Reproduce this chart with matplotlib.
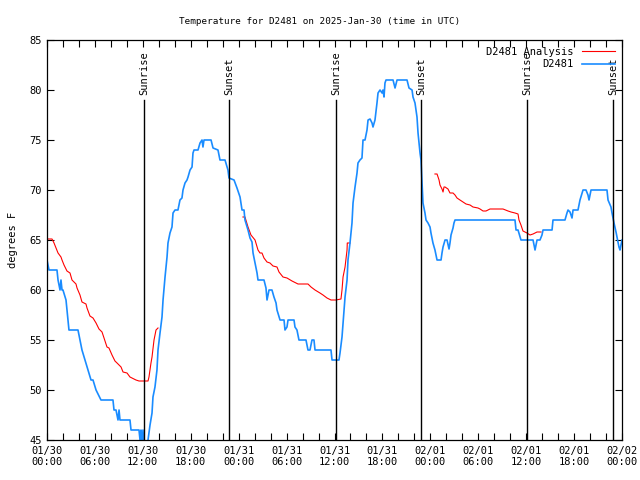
"""Temperature for station D2481, observed vs analysis, gnuplot-like look."""
import matplotlib
matplotlib.use("Agg")
import matplotlib.pyplot as plt
import matplotlib.dates as mdates
import numpy as np
import pandas as pd

START = pd.Timestamp("2025-01-30 00:00")
END = pd.Timestamp("2025-02-02 00:00")

# observed temperature: hours since START, degrees F
obs_hours = [
    0.0, 0.25, 1.25, 1.38, 1.63, 1.75, 1.88, 2.0, 2.38, 2.5, 2.63, 2.75, 3.88,
    4.13, 4.38, 4.76, 5.13, 5.51, 5.76, 6.14, 6.76, 8.26, 8.39, 8.64, 8.89, 9.02,
    9.14, 10.39, 10.52, 11.52, 11.65, 11.77, 11.9, 12.02, 12.15, 12.52, 12.65,
    12.9, 13.15, 13.27, 13.52, 13.77, 13.9, 14.15, 14.4, 14.53, 14.78, 15.03,
    15.15, 15.4, 15.65, 15.78, 16.03, 16.4, 16.65, 16.9, 17.03, 17.28, 17.53,
    17.66, 17.91, 18.16, 18.28, 18.41, 18.91, 19.16, 19.41, 19.53, 19.66, 20.54,
    20.79, 21.41, 21.66, 22.29, 22.54, 22.66, 22.79, 23.42, 23.79, 24.17, 24.42,
    24.67, 24.79, 25.17, 25.42, 25.67, 25.8, 26.05, 26.3, 26.42, 27.17, 27.42,
    27.55, 27.67, 27.8, 28.17, 28.42, 28.68, 28.8, 29.18, 29.68, 29.8, 30.05,
    30.18, 30.93, 31.05, 31.3, 31.55, 32.43, 32.68, 32.93, 33.18, 33.43, 33.56,
    35.56, 35.69, 36.56, 36.69, 36.94, 37.07, 37.32, 37.57, 37.69, 37.94, 38.19,
    38.32, 38.57, 38.82, 38.94, 39.19, 39.44, 39.57, 39.82, 40.07, 40.2, 40.45,
    40.7, 40.82, 41.07, 41.32, 41.45, 41.7, 41.95, 42.07, 42.2, 42.32, 42.45,
    43.33, 43.58, 43.83, 45.08, 45.33, 45.71, 45.83, 46.08, 46.33, 46.46, 46.71,
    46.83, 46.96, 47.08, 47.33, 47.46, 47.71, 47.96, 48.08, 48.33, 48.58, 48.84,
    49.34, 49.46, 49.59, 49.84, 50.09, 50.34, 50.46, 50.59, 50.84, 50.96, 51.09,
    58.6, 58.73, 58.98, 59.35, 60.86, 61.11, 61.36, 61.73, 61.98, 62.11, 63.24,
    63.36, 64.86, 65.11, 65.24, 65.49, 65.74, 65.87, 66.49, 66.74, 67.12, 67.49,
    67.74, 67.87, 68.12, 70.12, 70.25, 70.62, 70.75, 71.0, 71.25, 71.37, 71.62,
    71.75, 72.0,
]
obs_temp = [
    63, 62, 62, 61, 60, 61, 60, 60, 59, 58, 57, 56, 56,
    55, 54, 53, 52, 51, 51, 50, 49, 49, 48, 48, 47, 48,
    47, 47, 46, 46, 45, 46, 44.5, 46, 44, 44, 45,
    46.5, 47.7, 49.3, 50.3, 52, 54, 55.7, 57.3, 59, 61.3, 63.3,
    64.7, 65.7, 66.3, 67.7, 68, 68, 69, 69.2, 70, 70.7, 71,
    71.3, 72, 72.3, 73.7, 74, 74, 74.7, 75, 74.3, 75, 75,
    74.2, 74, 73, 73, 72.3, 72, 71.2, 71, 70.2, 69.3, 68,
    68, 67, 66, 65.2, 64.8, 63.7, 62.7, 61.7, 61, 61, 60.2,
    59, 59.5, 60, 60, 59.3, 58.7, 58, 57, 57, 56, 56.3,
    57, 57, 56.3, 56, 55, 55, 54, 54, 55, 55, 54,
    54, 53, 53, 53.7, 55.3, 56.7, 59.3, 61, 63, 64.7, 66.7,
    68.7, 70.3, 71.7, 72.7, 73, 73.2, 75, 75, 76, 77, 77.1,
    76.7, 76.3, 77, 78.7, 79.7, 80, 79.7, 80, 79.3, 80.7, 81,
    81, 80.2, 81, 81, 80.2, 80, 79.3, 78.7, 77.3, 75.7, 73.7,
    73, 70.7, 68.7, 67.7, 67, 66.7, 66.3, 65.7, 64.7, 64, 63,
    63, 63.7, 64.3, 65, 65, 64.1, 64.7, 65.5, 66.2, 66.7, 67,
    67, 66, 66, 65, 65, 64, 65, 65, 65.5, 66, 66,
    67, 67, 67.7, 68, 67.8, 67.2, 68, 68, 69, 70, 70,
    69.5, 69, 70, 70, 69, 68.3, 67.7, 66.7, 65.8, 65.3, 64.3,
    64, 65,
]

# analysis temperature, three separate runs (NaN breaks the line)
ana_hours = [
    0.0, 0.63, 0.88, 1.13, 1.38, 1.75, 1.88, 2.13, 2.5, 2.88, 3.13, 3.63, 3.76,
    4.13, 4.38, 4.88, 5.01, 5.38, 5.76, 6.14, 6.51, 6.89, 7.14, 7.51, 7.76,
    8.14, 8.51, 8.77, 9.27, 9.52, 10.02, 10.39, 10.64, 11.14, 11.52, 12.65,
    12.77, 13.02, 13.15, 13.4, 13.65, 13.9, 13.95,
    24.54, 24.79, 25.17, 25.54, 26.05, 26.42, 26.67, 26.92, 27.17, 27.55, 27.92,
    28.3, 28.8, 29.05, 29.55, 30.05, 30.68, 31.18, 31.43, 32.68, 33.06, 33.56,
    34.18, 34.56, 35.06, 35.56, 36.19, 36.81, 36.94, 37.07, 37.32, 37.57, 37.6,
    37.94, 38.0,
    48.58, 48.84, 49.09, 49.21, 49.46, 49.59, 49.71, 49.84, 50.21, 50.46, 50.84,
    51.09, 51.34, 51.71, 52.09, 52.47, 52.97, 53.34, 53.97, 54.22, 54.6, 54.97,
    55.47, 57.1, 57.73, 58.1, 58.6, 58.98, 59.1, 59.35, 59.6, 60.1, 60.48,
    60.86, 61.36, 61.86,
]
ana_temp = [
    65.1, 65.1, 64.7, 64.2, 63.7, 63.3, 63, 62.5, 61.9, 61.7, 61, 60.6, 60.2,
    59.5, 58.8, 58.6, 58.2, 57.4, 57.2, 56.7, 56.1, 55.8, 55.2, 54.3, 54.2,
    53.5, 52.9, 52.7, 52.3, 51.8, 51.7, 51.3, 51.2, 51, 50.9, 50.9,
    51.3, 52.7, 53.3, 55, 56, 56.2, np.nan,
    67.3, 67.3, 66.3, 65.5, 65, 64, 63.7, 63.7, 63.2, 62.8, 62.7,
    62.4, 62.3, 61.8, 61.3, 61.2, 60.9, 60.7, 60.6, 60.6, 60.3, 60,
    59.7, 59.5, 59.2, 59, 59, 59.1, 60, 61.3, 62.3, 64, 64.7,
    64.7, np.nan,
    71.6, 71.6, 71, 70.5, 70.1, 69.8, 70.3, 70.3, 70.1, 69.7, 69.7,
    69.5, 69.2, 69, 68.8, 68.6, 68.5, 68.3, 68.2, 68.1, 67.9, 67.9,
    68.1, 68.1, 67.9, 67.8, 67.7, 67.6, 67, 66.5, 65.9, 65.7, 65.5,
    65.6, 65.8, 65.8,
]

# sun events (UTC)
sun_times = [
    "2025-01-30 12:09", "2025-01-30 22:47", "2025-01-31 12:11",
    "2025-01-31 22:50", "2025-02-01 12:06", "2025-02-01 22:52",
]
sun_labels = ["Sunrise", "Sunset", "Sunrise", "Sunset", "Sunrise", "Sunset"]

FONT = "DejaVu Sans Mono"
FS = 7.5
RED = "#ff0000"
BLUE = "#1a8cff"

obs_x = START + pd.to_timedelta(obs_hours, unit="h")
ana_x = START + pd.to_timedelta(ana_hours, unit="h")

fig = plt.figure(figsize=(6.4, 4.8), dpi=100)
ax = fig.add_axes([47 / 640, 40 / 480, 575 / 640, 400 / 480])

ax.plot(ana_x, ana_temp, color=RED, lw=0.8, label="D2481 Analysis")
ax.plot(obs_x, obs_temp, color=BLUE, lw=1.2, label="D2481")

y_lo, y_hi = 45, 85
line_top = 79
for t, lab in zip(sun_times, sun_labels):
    tx = pd.Timestamp(t)
    ax.axvline(tx, ymin=0, ymax=(line_top - y_lo) / (y_hi - y_lo), color="black", lw=1.0)
    ax.text(tx, line_top + 0.5, lab, rotation=90, ha="center", va="bottom",
            fontsize=FS, family=FONT)

ax.set_xlim(START, END)
ax.set_ylim(y_lo, y_hi)
ax.set_yticks(range(45, 86, 5))

ax.xaxis.set_major_locator(mdates.HourLocator(byhour=range(0, 24, 2)))


def fmt_time(val, pos=None):
    d = mdates.num2date(val)
    if d.hour % 6:
        return ""
    return d.strftime("%m/%d\n%H:%M")


ax.xaxis.set_major_formatter(plt.FuncFormatter(fmt_time))
ax.tick_params(axis="both", which="both", direction="in", length=5, width=0.8,
               top=True, right=True, labelsize=FS, pad=4)
for lbl in ax.get_xticklabels() + ax.get_yticklabels():
    lbl.set_family(FONT)
for sp in ax.spines.values():
    sp.set_linewidth(0.9)

ax.set_ylabel("degrees F", fontsize=FS, family=FONT, labelpad=8)
fig.suptitle("Temperature for D2481 on 2025-Jan-30 (time in UTC)",
             fontsize=6.7, family=FONT, y=0.965)

leg = ax.legend(loc="upper right", frameon=False, prop={"family": FONT, "size": FS},
                markerfirst=False, handlelength=3.2, borderaxespad=0.35,
                labelspacing=0.25, handletextpad=0.8, borderpad=0.3)
for txt in leg.get_texts():
    txt.set_ha("right")

fig.savefig("out.png", dpi=100)
